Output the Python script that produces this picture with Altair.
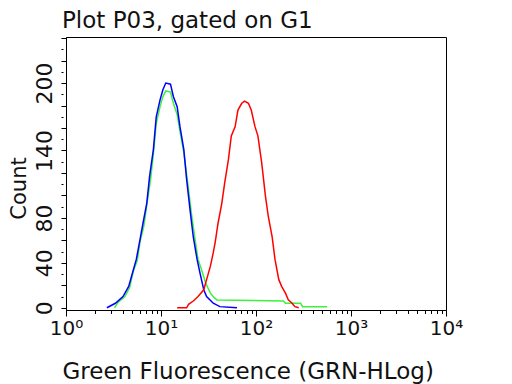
import altair as alt
import pandas as pd

# histogram curves: log10(fluorescence) positions and counts
blue_log = [0.43, 0.52, 0.60, 0.66, 0.71, 0.74, 0.78, 0.81, 0.85, 0.88, 0.92, 0.95,
            0.99, 1.02, 1.05, 1.10, 1.13, 1.17, 1.20, 1.24, 1.27, 1.31, 1.34, 1.38,
            1.41, 1.45, 1.48, 1.55, 1.62, 1.80]
blue_cnt = [0, 4, 10, 19, 34, 43, 61, 75, 93, 117, 141, 170,
            185, 194, 200, 199, 188, 179, 161, 141, 114, 84, 63, 43,
            31, 16, 10, 4, 1, 0]

green_log = [0.51, 0.55, 0.62, 0.67, 0.71, 0.75, 0.78, 0.82, 0.85, 0.89, 0.92, 0.95,
             0.99, 1.02, 1.05, 1.10, 1.13, 1.17, 1.20, 1.24, 1.28, 1.32, 1.36, 1.39,
             1.43, 1.47, 1.52, 1.56, 1.59, 2.29, 2.31, 2.47, 2.49, 2.75]
green_cnt = [0, 5, 10, 18, 33, 42, 59, 73, 91, 114, 137, 164,
             179, 188, 193, 192, 182, 172, 157, 138, 112, 84, 60, 43,
             33, 22, 13, 9, 7, 6, 4, 4, 1, 1]

red_log = [1.17, 1.27, 1.29, 1.34, 1.39, 1.45, 1.48, 1.52, 1.55, 1.57, 1.60, 1.64,
           1.67, 1.71, 1.74, 1.78, 1.81, 1.85, 1.88, 1.92, 1.95, 1.99, 2.02, 2.06,
           2.10, 2.13, 2.17, 2.20, 2.24, 2.27, 2.31, 2.34, 2.38, 2.41, 2.45]
red_cnt = [0, 0, 3, 6, 10, 16, 25, 37, 49, 58, 75, 93,
           111, 132, 153, 161, 176, 182, 184, 182, 176, 161, 153, 129,
           99, 81, 63, 43, 25, 19, 13, 7, 4, 1, 0]

x_tick_values = [m * 10 ** d for d in range(4) for m in range(1, 10)] + [10000]
y_tick_values = list(range(0, 250, 10))
y_label_values = [0, 40, 80, 140, 200]
superscripts = ["⁰", "¹", "²", "³", "⁴"]

def frame(logs, cnts, name):
    return pd.DataFrame({"fl": [10 ** v for v in logs], "count": cnts, "series": name})

FONT = "DejaVu Sans"
TXT = "#111111"

xscale = alt.Scale(type="log", domain=[1, 10000], nice=False)
yscale = alt.Scale(domain=[-2, 241], nice=False, zero=False)

is_pow = "abs(log(datum.value)/LN10 - round(log(datum.value)/LN10)) < 0.000001"
sup_arr = "[" + ",".join("'" + s + "'" for s in superscripts) + "]"
x_label_expr = f"({is_pow}) ? '10' + {sup_arr}[round(log(datum.value)/LN10)] : ''"
y_label_expr = "indexof([" + ",".join(str(v) for v in y_label_values) + "], datum.value) >= 0 ? datum.label : ''"

xaxis = alt.Axis(
    values=x_tick_values, labelExpr=x_label_expr, grid=False,
    tickSize={"condition": {"test": is_pow, "value": 6}, "value": 3.5},
    tickColor="black", domainColor="black", tickWidth=1, domainWidth=1,
    labelFont=FONT, labelFontSize=20, labelColor=TXT, labelPadding=2,
    labelFlush=False, labelOverlap=False,
    title="Green Fluorescence (GRN-HLog)", titleFont=FONT, titleFontSize=23,
    titleFontWeight="normal", titleColor=TXT, titleX=-4, titleY=68,
    titleAlign="left", titleBaseline="alphabetic",
)
yaxis = alt.Axis(
    values=y_tick_values, labelExpr=y_label_expr, grid=False,
    tickSize=5,
    tickDash={"condition": {"test": "datum.value % 20 != 0", "value": [0, 3, 2]}, "value": [10, 0]},
    tickColor="black", domainColor="black", tickWidth=1, domainWidth=1,
    labelFont=FONT, labelFontSize=22, labelColor=TXT, labelAngle=270,
    labelAlign="center", labelBaseline="alphabetic", labelPadding=10,
    labelOverlap=False, labelFlush=False,
    title="Count", titleFont=FONT, titleFontSize=21, titleFontWeight="normal",
    titleColor=TXT, titleAngle=270, titleX=-41, titleY=151,
    titleAlign="center", titleBaseline="alphabetic",
)

def layer(df, color):
    return alt.Chart(df).mark_line(color=color, strokeWidth=1.5, clip=True).encode(
        x=alt.X("fl:Q", scale=xscale, axis=xaxis),
        y=alt.Y("count:Q", scale=yscale, axis=yaxis),
        order="fl:Q",
    )

chart = alt.layer(
    layer(frame(green_log, green_cnt, "green"), "#3ff03f"),
    layer(frame(blue_log, blue_cnt, "blue"), "#0000ff"),
    layer(frame(red_log, red_cnt, "red"), "#ff0000"),
).properties(
    width=380, height=273,
    autosize=alt.AutoSizeParams(type="none"),
    padding={"left": 58, "top": 29, "right": 58, "bottom": 74},
    title=alt.TitleParams(
        "Plot P03, gated on G1", anchor="start", frame="group", font=FONT,
        fontSize=23, fontWeight="normal", color=TXT, offset=-14,
        baseline="alphabetic", dx=-4,
    ),
    background="white",
).configure_view(stroke="black", strokeWidth=1)

chart.save("out.html", embed_options={"renderer": "svg", "actions": False})
